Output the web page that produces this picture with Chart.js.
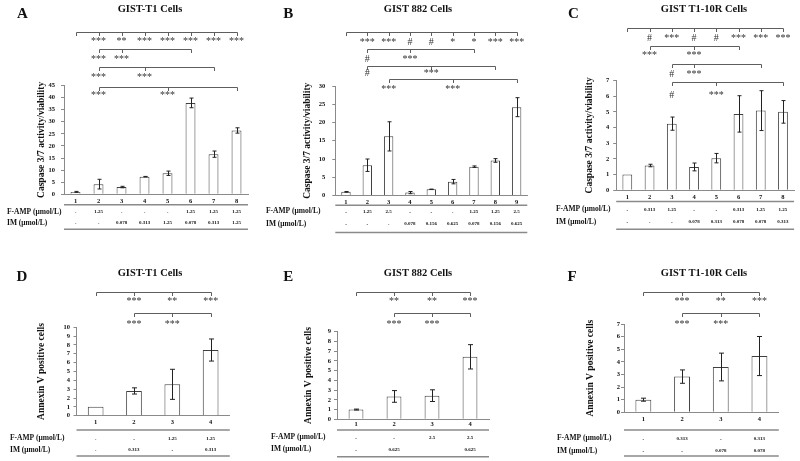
<!DOCTYPE html>
<html>
<head>
<meta charset="utf-8">
<script src="https://cdn.jsdelivr.net/npm/chart.js@4"></script>
<style>
  html, body { margin: 0; padding: 0; background: #fff; }
  #fig { position: relative; width: 800px; height: 461px; overflow: hidden; }
  #fig canvas { position: absolute; left: 0; top: 0; }
</style>
</head>
<body>
<div id="fig">
  <canvas id="chartA" width="800" height="461"></canvas>
  <canvas id="chartB" width="800" height="461"></canvas>
  <canvas id="chartC" width="800" height="461"></canvas>
  <canvas id="chartD" width="800" height="461"></canvas>
  <canvas id="chartE" width="800" height="461"></canvas>
  <canvas id="chartF" width="800" height="461"></canvas>
</div>
<script>
// ---- data ----
// A: GIST-T1, caspase 3/7
const catsA = ['1', '2', '3', '4', '5', '6', '7', '8'];
const valuesA = [1.0, 4.2, 3.0, 7.3, 8.7, 37.8, 16.6, 26.4];
const errorsA = [0.2, 2.0, 0.3, 0.1, 0.9, 2.0, 1.3, 1.1];
const fampA = ['-', '1.25', '-', '-', '-', '1.25', '1.25', '1.25'];
const imA = ['-', '-', '0.078', '0.313', '1.25', '0.078', '0.313', '1.25'];
const yAxisA = [45, 5]; // max, step

// B: GIST 882, caspase 3/7
const catsB = ['1', '2', '3', '4', '5', '6', '7', '8', '9'];
const valuesB = [1.0, 8.3, 16.2, 0.8, 1.7, 3.8, 7.9, 9.6, 24.2];
const errorsB = [0.1, 1.7, 4.0, 0.3, 0.05, 0.6, 0.2, 0.5, 2.6];
const fampB = ['-', '1.25', '2.5', '-', '-', '-', '1.25', '1.25', '2.5'];
const imB = ['-', '-', '-', '0.078', '0.156', '0.625', '0.078', '0.156', '0.625'];
const yAxisB = [30, 5];

// C: GIST T1-10R, caspase 3/7
const catsC = ['1', '2', '3', '4', '5', '6', '7', '8'];
const valuesC = [1.0, 1.58, 4.25, 1.49, 2.05, 4.87, 5.08, 5.0];
const errorsC = [0, 0.08, 0.42, 0.25, 0.3, 1.16, 1.27, 0.72];
const fampC = ['-', '0.313', '1.25', '-', '-', '0.313', '1.25', '1.25'];
const imC = ['-', '-', '-', '0.078', '0.313', '0.078', '0.078', '0.313'];
const yAxisC = [7, 1];

// D: GIST-T1, annexin V
const catsD = ['1', '2', '3', '4'];
const valuesD = [1.0, 2.8, 3.55, 7.43];
const errorsD = [0, 0.35, 1.7, 1.25];
const fampD = ['-', '-', '1.25', '1.25'];
const imD = ['-', '0.313', '-', '0.313'];
const yAxisD = [10, 1];

// E: GIST 882, annexin V
const catsE = ['1', '2', '3', '4'];
const valuesE = [1.0, 2.35, 2.43, 6.42];
const errorsE = [0.05, 0.6, 0.6, 1.25];
const fampE = ['-', '-', '2.5', '2.5'];
const imE = ['-', '0.625', '', '0.625'];
const yAxisE = [9, 1];

// F: GIST T1-10R, annexin V
const catsF = ['1', '2', '3', '4'];
const valuesF = [1.0, 2.83, 3.59, 4.46];
const errorsF = [0.12, 0.53, 1.1, 1.55];
const fampF = ['-', '0.313', '-', '0.313'];
const imF = ['-', '-', '0.078', '0.078'];
const yAxisF = [7, 1];

// significance brackets: [from, to, extra ticks, [[category, mark], ...]]
const sigA = [
  [0, 7, [1, 2, 3, 4, 5, 6], [[1, '***'], [2, '**'], [3, '***'], [4, '***'], [5, '***'], [6, '***'], [7, '***']]],
  [1, 5, [2], [[1, '***'], [2, '***']]],
  [1, 6, [3], [[1, '***'], [3, '***']]],
  [1, 7, [4], [[1, '***'], [4, '***']]]
];
const sigB = [
  [0, 8, [1, 2, 3, 4, 5, 6, 7], [[1, '***'], [2, '***'], [3, '#'], [4, '#'], [5, '*'], [6, '*'], [7, '***'], [8, '***']]],
  [1, 6, [3], [[1, '#'], [3, '***']]],
  [1, 7, [4], [[1, '#'], [4, '***']]],
  [2, 8, [5], [[2, '***'], [5, '***']]]
];
const sigC = [
  [0, 7, [1, 2, 3, 4, 5, 6], [[1, '#'], [2, '***'], [3, '#'], [4, '#'], [5, '***'], [6, '***'], [7, '***']]],
  [1, 5, [3], [[1, '***'], [3, '***']]],
  [2, 6, [3], [[2, '#'], [3, '***']]],
  [2, 7, [4], [[2, '#'], [4, '***']]]
];
const sigD = [
  [0, 3, [1, 2], [[1, '***'], [2, '**'], [3, '***']]],
  [1, 3, [2], [[1, '***'], [2, '***']]]
];
const sigE = [
  [0, 3, [1, 2], [[1, '**'], [2, '**'], [3, '***']]],
  [1, 3, [2], [[1, '***'], [2, '***']]]
];
const sigF = [
  [0, 3, [1, 2], [[1, '***'], [2, '**'], [3, '***']]],
  [1, 3, [2], [[1, '***'], [2, '***']]]
];

const caspaseTitle = 'Caspase 3/7 activity/viability';
const annexinTitle = 'Annexin V positive cells';

// ---- layout (page pixels) ----
const SERIF = '"Liberation Serif", "Times New Roman", serif';
const INK = '#111';
const AXIS = '#8a8a8a';

const panels = [
  { id: 'chartA', letter: 'A', title: 'GIST-T1 Cells', cats: catsA, values: valuesA, errors: errorsA, famp: fampA, im: imA, yAxis: yAxisA, sig: sigA, yTitle: caspaseTitle,
    area: [64, 85.5, 248, 194.3], padL: 36.3, tickPad: 6, xPad: 3, barFrac: 0.43,
    letterPos: [22.5, 13.8], titlePos: [150, 8.8], rowX: 7, rowY: [211.7, 222.7], lineY: [204.7, 229.3],
    brY: [32.3, 49, 67.3, 87.3], mkY: [39, 56.5, 75, 93], cap: 2 },
  { id: 'chartB', letter: 'B', title: 'GIST 882 Cells', cats: catsB, values: valuesB, errors: errorsB, famp: fampB, im: imB, yAxis: yAxisB, sig: sigB, yTitle: caspaseTitle,
    area: [335.3, 86, 527.3, 195.5], padL: 302, tickPad: 7, xPad: 3, barFrac: 0.44,
    letterPos: [288.3, 13.8], titlePos: [418, 8.8], rowX: 266, rowY: [211.5, 224], lineY: [205.3, 232.5],
    brY: [32.3, 49.3, 65.7, 79], mkY: [39.5, 57.3, 71, 86.7], cap: 2 },
  { id: 'chartC', letter: 'C', title: 'GIST T1-10R Cells', cats: catsC, values: valuesC, errors: errorsC, famp: fampC, im: imC, yAxis: yAxisC, sig: sigC, yTitle: caspaseTitle,
    area: [616.2, 80.5, 794.1, 190.3], padL: 584.3, tickPad: 4, xPad: 3, barFrac: 0.44,
    letterPos: [573.5, 13.8], titlePos: [704, 8.8], rowX: 556, rowY: [209.5, 222], lineY: [201.5, 229.3],
    brY: [28.3, 45.7, 64, 82.3], mkY: [36, 53.3, 71.7, 93.3], cap: 2 },
  { id: 'chartD', letter: 'D', title: 'GIST-T1 Cells', cats: catsD, values: valuesD, errors: errorsD, famp: fampD, im: imD, yAxis: yAxisD, sig: sigD, yTitle: annexinTitle,
    area: [76.5, 327.3, 229.8, 415.7], padL: 36, tickPad: 3.5, xPad: 3, barFrac: 0.41,
    letterPos: [22, 277], titlePos: [150, 273], rowX: 10, rowY: [438.3, 450], lineY: [430, 456],
    brY: [291.7, 312.7], mkY: [299.3, 322.3], cap: 2.5 },
  { id: 'chartE', letter: 'E', title: 'GIST 882 Cells', cats: catsE, values: valuesE, errors: errorsE, famp: fampE, im: imE, yAxis: yAxisE, sig: sigE, yTitle: annexinTitle,
    area: [337, 331.7, 489, 419.3], padL: 302.6, tickPad: 3, xPad: 1.5, barFrac: 0.39,
    letterPos: [288.3, 277], titlePos: [418, 273], rowX: 271, rowY: [437.3, 449.3], lineY: [430, 456.7],
    brY: [291.7, 312.7], mkY: [299.3, 322.3], cap: 2.5 },
  { id: 'chartF', letter: 'F', title: 'GIST T1-10R Cells', cats: catsF, values: valuesF, errors: errorsF, famp: fampF, im: imF, yAxis: yAxisF, sig: sigF, yTitle: annexinTitle,
    area: [624, 324, 778.8, 412.3], padL: 585, tickPad: 1, xPad: 3, barFrac: 0.41,
    letterPos: [572, 277], titlePos: [704, 273], rowX: 557, rowY: [438.3, 451], lineY: [430, 456],
    brY: [291.7, 312.7], mkY: [299.3, 322.3], cap: 2.5 }
];

// draws error bars, brackets, treatment table, letter and title
function figurePlugin(p) {
  return {
    id: 'figure' + p.letter,
    afterDatasetsDraw(chart) {
      const ctx = chart.ctx;
      const y = chart.scales.y;
      const bars = chart.getDatasetMeta(0).data;
      ctx.save();
      ctx.strokeStyle = '#222';
      ctx.lineWidth = 1;
      p.values.forEach((v, i) => {
        const e = p.errors[i];
        if (!e) return;
        const x = Math.round(bars[i].x) + 0.5;
        const top = y.getPixelForValue(v + e);
        const bot = y.getPixelForValue(v - e);
        ctx.beginPath();
        ctx.moveTo(x, top); ctx.lineTo(x, bot);
        ctx.moveTo(x - p.cap, top); ctx.lineTo(x + p.cap, top);
        ctx.moveTo(x - p.cap, bot); ctx.lineTo(x + p.cap, bot);
        ctx.stroke();
      });
      ctx.restore();
    },
    afterDraw(chart) {
      const ctx = chart.ctx;
      const xs = chart.scales.x;
      const px = i => xs.getPixelForValue(i);
      const area = chart.chartArea;
      ctx.save();

      // letter and title
      ctx.fillStyle = INK;
      ctx.textAlign = 'center';
      ctx.textBaseline = 'middle';
      ctx.font = 'bold 15px ' + SERIF;
      ctx.fillText(p.letter, p.letterPos[0], p.letterPos[1]);
      ctx.font = 'bold 10.5px ' + SERIF;
      ctx.fillText(p.title, p.titlePos[0], p.titlePos[1]);

      // brackets
      ctx.strokeStyle = '#5e5e5e';
      ctx.lineWidth = 1;
      p.sig.forEach((b, k) => {
        const ly = Math.round(p.brY[k]) + 0.5;
        const x1 = Math.round(px(b[0])) + 0.5;
        const x2 = Math.round(px(b[1])) + 0.5;
        ctx.beginPath();
        ctx.moveTo(x1, ly + 3.5); ctx.lineTo(x1, ly); ctx.lineTo(x2, ly); ctx.lineTo(x2, ly + 3.5);
        b[2].forEach(t => {
          const tx = Math.round(px(t)) + 0.5;
          ctx.moveTo(tx, ly); ctx.lineTo(tx, ly + 3.5);
        });
        ctx.stroke();
        ctx.fillStyle = '#333';
        ctx.font = '10px ' + SERIF;
        ctx.textBaseline = 'alphabetic';
        b[3].forEach(([i, mark]) => {
          ctx.fillText(mark, px(i), p.mkY[k] + 5);
        });
      });

      // treatment table
      ctx.strokeStyle = AXIS;
      ctx.lineWidth = 1.5;
      p.lineY.forEach(ly => {
        ctx.beginPath();
        ctx.moveTo(area.left, ly); ctx.lineTo(area.right, ly);
        ctx.stroke();
      });
      ctx.fillStyle = INK;
      ctx.textBaseline = 'middle';
      ctx.textAlign = 'left';
      ctx.font = 'bold 7.5px ' + SERIF;
      ctx.fillText('F-AMP (μmol/L)', p.rowX, p.rowY[0]);
      ctx.fillText('IM (μmol/L)', p.rowX, p.rowY[1]);
      ctx.textAlign = 'center';
      ctx.font = 'bold 5px ' + SERIF;
      p.cats.forEach((c, i) => {
        ctx.fillText(p.famp[i], px(i), p.rowY[0]);
        ctx.fillText(p.im[i], px(i), p.rowY[1]);
      });
      ctx.restore();
    }
  };
}

panels.forEach(p => {
  new Chart(document.getElementById(p.id), {
    type: 'bar',
    data: {
      labels: p.cats,
      datasets: [{
        data: p.values,
        backgroundColor: '#ffffff',
        borderColor: '#404040',
        borderWidth: 1,
        barPercentage: 1,
        categoryPercentage: p.barFrac
      }]
    },
    options: {
      responsive: false,
      animation: false,
      events: [],
      layout: {
        autoPadding: false,
        padding: { left: p.padL, top: p.area[1], right: 800 - p.area[2], bottom: 461 - p.area[3] - 20 }
      },
      plugins: {
        legend: { display: false },
        tooltip: { enabled: false }
      },
      scales: {
        x: {
          grid: { display: false, drawTicks: false },
          border: { display: true, color: AXIS, width: 1 },
          ticks: { color: INK, padding: p.xPad, autoSkip: false, font: { family: SERIF, size: 6.5, weight: 'bold' } },
          afterFit: s => { s.height = 20; }
        },
        y: {
          min: 0,
          max: p.yAxis[0],
          ticks: { stepSize: p.yAxis[1], autoSkip: false, color: INK, padding: p.tickPad, font: { family: SERIF, size: 6.5, weight: 'bold' } },
          grid: { drawOnChartArea: false, drawTicks: true, tickLength: 3, color: AXIS },
          border: { display: true, color: AXIS, width: 1 },
          title: { display: true, text: p.yTitle, color: INK, padding: 0, font: { family: SERIF, size: 9.5, weight: 'bold' } },
          afterFit: s => { s.width = p.area[0] - p.padL; }
        }
      }
    },
    plugins: [figurePlugin(p)]
  });
});
</script>
</body>
</html>
